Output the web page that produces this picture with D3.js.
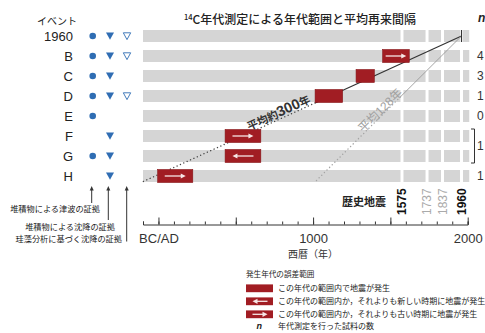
<!DOCTYPE html>
<html><head><meta charset="utf-8">
<script src="https://cdn.jsdelivr.net/npm/d3@7"></script>
<style>body{margin:0;background:#fff}</style>
</head><body><svg id="c" width="485" height="333"></svg>
<script>
// ---------- data ----------
const events = ["1960","B","C","D","E","F","G","H"];
const hasTsunami = [1,1,1,1,1,0,1,0];          // ● sediment tsunami evidence
const hasSubsidence = [1,1,1,1,0,1,1,1];       // ▼ sediment subsidence evidence
const hasDiatom = [1,1,0,1,0,0,0,0];           // ▽ diatom subsidence evidence
const rangeEvents = ["B","C","D","F","G","H"];
const rangeStart = [1450,1278,1013,431,431,-5];
const rangeEnd   = [1622,1396,1191,662,662,222];
const rangeArrow = ["right","none","none","right","left","right"];
const nRows = [["B"],["C"],["D"],["E"],["F","G"],["H"]];
const nValues = ["4","3","1","0","1","1"];
const historicalYears = [1575,1737,1837,1960];
const historicalStrong = [true,false,false,true];
const majorTicks = [0,500,1000,1500,2000];
const minorTicks = d3.range(-100,2001,100);
const tickLabels = {0:"BC/AD",1000:"1000",2000:"2000"};
// average recurrence fit lines: [year,rowIndex] start, solid-until-year, end
const fit300 = {start:[1960,0], solidTo:1013, end:[-100,7.28], label:["平均約","300","年"], at:793};
const fit128 = {start:[1960,0], solidTo:1565, end:[1012,7.3], label:["平均","128","年"], at:1455};
const indicatorLabels = ["堆積物による津波の証拠","堆積物による沈降の証拠","珪藻分析に基づく沈降の証拠"];
const legendItems = ["この年代の範囲内で地震が発生","この年代の範囲内か，それよりも新しい時期に地震が発生","この年代の範囲内か，それよりも古い時期に地震が発生"];
const legendArrows = ["none","left","right"];

// ---------- setup ----------
const svg = d3.select("#c");
const JP = "'Noto Sans CJK JP','Noto Sans',sans-serif";
const LAT = "'Liberation Sans',Arial,sans-serif";
const RED = "#a11d23", BLUE = "#2f6db3", GRAY = "#d5d5d5";

const x = d3.scaleLinear().domain([-100,2000]).range([143,467.7]);
const yi = d3.scaleLinear().domain([0,7]).range([36,176]);
const y = d3.scalePoint().domain(events).range([36,176]);
const barH = 12;

// title
const t = svg.append("text").attr("x",300).attr("y",24).attr("text-anchor","middle")
  .attr("font-family",JP).attr("font-size",12).attr("font-weight",500).attr("fill","#222");
t.append("tspan").attr("font-size",7.5).attr("dy",-4).text("14");
t.append("tspan").attr("dy",4).text("C年代測定による年代範囲と平均再来間隔");

// left header
svg.append("text").attr("x",77).attr("y",25).attr("text-anchor","end")
  .attr("font-family",JP).attr("font-size",10).attr("fill","#222").text("イベント");

// event labels
svg.append("g").selectAll("text").data(events).join("text")
  .attr("x",73).attr("y",d=>y(d)+4.6).attr("text-anchor","end")
  .attr("font-family",LAT).attr("font-size",13).attr("fill","#222").text(d=>d);

// markers
const mk = svg.append("g");
events.forEach((e,i)=>{
  const cy = y(e);
  if(hasTsunami[i]) mk.append("circle").attr("cx",92.7).attr("cy",cy).attr("r",3.3).attr("fill",BLUE);
  if(hasSubsidence[i]) mk.append("path").attr("d",`M106,${cy-3.6}H114L110,${cy+3.8}Z`).attr("fill",BLUE);
  if(hasDiatom[i]) mk.append("path").attr("d",`M123.3,${cy-3.2}H130.7L127,${cy+3.6}Z`).attr("fill","none").attr("stroke",BLUE).attr("stroke-width",0.9);
});

// gray bars with gaps at historical earthquakes
const bounds = [-100,...historicalYears,2010];
const segs = [];
events.forEach(e=>{
  for(let k=0;k<bounds.length-1;k++){
    const x0 = k===0 ? x(bounds[k]) : x(bounds[k])+1.5;
    const x1 = k===bounds.length-2 ? x(bounds[k+1]) : x(bounds[k+1])-1.5;
    segs.push({e,x0,x1});
  }
});
svg.append("g").selectAll("rect").data(segs).join("rect")
  .attr("x",d=>d.x0).attr("width",d=>d.x1-d.x0)
  .attr("y",d=>y(d.e)-barH/2).attr("height",barH).attr("fill",GRAY);

// fit lines
function drawFit(f, solidColor, dotColor, w){
  const p0=[x(f.start[0]),yi(f.start[1])], p2=[x(f.end[0]),yi(f.end[1])];
  const tt=(x(f.solidTo)-p0[0])/(p2[0]-p0[0]);
  const p1=[x(f.solidTo), p0[1]+tt*(p2[1]-p0[1])];
  svg.append("line").attr("x1",p0[0]).attr("y1",p0[1]).attr("x2",p1[0]).attr("y2",p1[1])
    .attr("stroke",solidColor).attr("stroke-width",w);
  svg.append("line").attr("x1",p1[0]).attr("y1",p1[1]).attr("x2",p2[0]).attr("y2",p2[1])
    .attr("stroke",dotColor).attr("stroke-width",1.4).attr("stroke-dasharray","0.1,3.6").attr("stroke-linecap","round");
  return {p0,p2};
}
const L1 = drawFit(fit300,"#333","#444",1.2);
const L2 = drawFit(fit128,"#9a9a9a","#a5a5a5",0.9);
// 1960 mark
svg.append("line").attr("x1",x(1960)).attr("x2",x(1960)).attr("y1",y("1960")-6).attr("y2",y("1960")+6)
  .attr("stroke","#333").attr("stroke-width",1.2);

// red ranges
rangeEvents.forEach((e,i)=>{
  const x0=x(rangeStart[i]), x1=x(rangeEnd[i]), cy=y(e);
  svg.append("rect").attr("x",x0).attr("y",cy-6.5).attr("width",x1-x0).attr("height",13)
    .attr("fill",RED).attr("stroke","#861418").attr("stroke-width",0.6);
  if(rangeArrow[i]!=="none") drawArrow((x0+x1)/2, cy, Math.min(21,x1-x0-6), rangeArrow[i]);
});
function drawArrow(cx,cy,len,dir){
  const s = dir==="right"?1:-1;
  const a=cx-s*len/2, b=cx+s*len/2;
  svg.append("line").attr("x1",a).attr("y1",cy).attr("x2",b-s*4).attr("y2",cy).attr("stroke","#f6e6e6").attr("stroke-width",1.3);
  svg.append("path").attr("d",`M${b},${cy}L${b-s*5},${cy-2.6}L${b-s*5},${cy+2.6}Z`).attr("fill","#f6e6e6");
}

// fit labels
function fitLabel(L, yr, parts, sizes, weights, color, off){
  const ang = Math.atan2(L.p2[1]-L.p0[1], L.p2[0]-L.p0[0])*180/Math.PI - 180;
  const px = x(yr), py = L.p0[1] + (px-L.p0[0])/(L.p2[0]-L.p0[0])*(L.p2[1]-L.p0[1]);
  const tx = svg.append("text").attr("transform",`translate(${px},${py}) rotate(${ang})`)
    .attr("y",off).attr("text-anchor","middle").attr("fill",color);
  parts.forEach((p,k)=>tx.append("tspan").attr("font-size",sizes[k]).attr("font-weight",weights[k])
    .attr("font-family",/^\d+$/.test(p)?LAT:JP).text(p));
}
fitLabel(L1, fit300.at, fit300.label, [11,14.5,11], ["bold","bold","bold"], "#333", -2);
fitLabel(L2, fit128.at, fit128.label, [12,12,12], ["normal","normal","normal"], "#a0a0a0", -0.5);

// axis
const ay = 224.5;
svg.append("g").attr("transform",`translate(0,${ay})`)
  .call(d3.axisBottom(x).tickValues(minorTicks).tickSize(-3).tickFormat(""))
  .call(g=>{g.select(".domain").remove(); g.selectAll("line").attr("stroke","#333");});
const ax = svg.append("g").attr("transform",`translate(0,${ay})`)
  .call(d3.axisBottom(x).tickValues(majorTicks).tickSizeInner(-7).tickSizeOuter(-3).tickPadding(9.3)
    .tickFormat(d=>tickLabels[d]||""));
ax.selectAll("line,path").attr("stroke","#333");
ax.selectAll("text").attr("font-family",LAT).attr("font-size",13).attr("fill","#333");
svg.append("text").attr("x",313).attr("y",257.5).attr("text-anchor","middle")
  .attr("font-family",JP).attr("font-size",10).attr("fill","#333").text("西暦（年）");

// historical earthquakes
svg.append("text").attr("x",386).attr("y",206).attr("text-anchor","end")
  .attr("font-family",JP).attr("font-size",11).attr("font-weight","bold").attr("fill","#222").text("歴史地震");
historicalYears.forEach((yr,i)=>{
  svg.append("text").attr("transform",`translate(${x(yr)+4.3},215) rotate(-90)`)
    .attr("font-family",LAT).attr("font-size",12)
    .attr("font-weight",historicalStrong[i]?"bold":"normal")
    .attr("fill",historicalStrong[i]?"#111":"#aaa").text(yr);
});

// n column
svg.append("text").attr("x",478).attr("y",22).attr("font-family",LAT).attr("font-size",12)
  .attr("font-style","italic").attr("font-weight","bold").attr("fill","#222").text("n");
nRows.forEach((r,i)=>{
  const cy = d3.mean(r,e=>y(e));
  svg.append("text").attr("x",477).attr("y",cy+4.3).attr("font-family",LAT).attr("font-size",12)
    .attr("fill","#333").text(nValues[i]);
  if(r.length>1){
    const t0=y(r[0])-7, t1=y(r[r.length-1])+7;
    svg.append("path").attr("d",`M471,${t0}H474.5V${t1}H471`).attr("fill","none").attr("stroke","#333").attr("stroke-width",1);
  }
});

// indicator arrows & labels
const indX = [91.7,108.3,126.7], indEnd=[203,220,241.5], labBase=[212,229.5,242], labEnd=[100,115,122];
indicatorLabels.forEach((lab,i)=>{
  svg.append("line").attr("x1",indX[i]).attr("x2",indX[i]).attr("y1",189).attr("y2",indEnd[i]).attr("stroke","#333").attr("stroke-width",1);
  svg.append("path").attr("d",`M${indX[i]},186L${indX[i]-2},190.5L${indX[i]+2},190.5Z`).attr("fill","#333");
  svg.append("text").attr("x",labEnd[i]).attr("y",labBase[i]).attr("text-anchor","end")
    .attr("font-family",JP).attr("font-size",8.2).attr("fill","#222").text(lab);
});

// legend
svg.append("text").attr("x",246).attr("y",277).attr("font-family",JP).attr("font-size",7.6).attr("fill","#222").text("発生年代の誤差範囲");
legendItems.forEach((txt,i)=>{
  const cy = 288.3 + i*13;
  svg.append("rect").attr("x",246).attr("y",cy-3.9).attr("width",27).attr("height",7.8).attr("fill",RED);
  if(legendArrows[i]!=="none") drawArrow(260,cy,15,legendArrows[i]);
  svg.append("text").attr("x",278).attr("y",cy+2.9).attr("font-family",JP).attr("font-size",8).attr("fill","#222").text(txt);
});
svg.append("text").attr("x",256.5).attr("y",328.7).attr("font-family",LAT).attr("font-size",9)
  .attr("font-style","italic").attr("font-weight","bold").attr("fill","#222").text("n");
svg.append("text").attr("x",278).attr("y",329).attr("font-family",JP).attr("font-size",8).attr("fill","#222").text("年代測定を行った試料の数");
</script></body></html>
